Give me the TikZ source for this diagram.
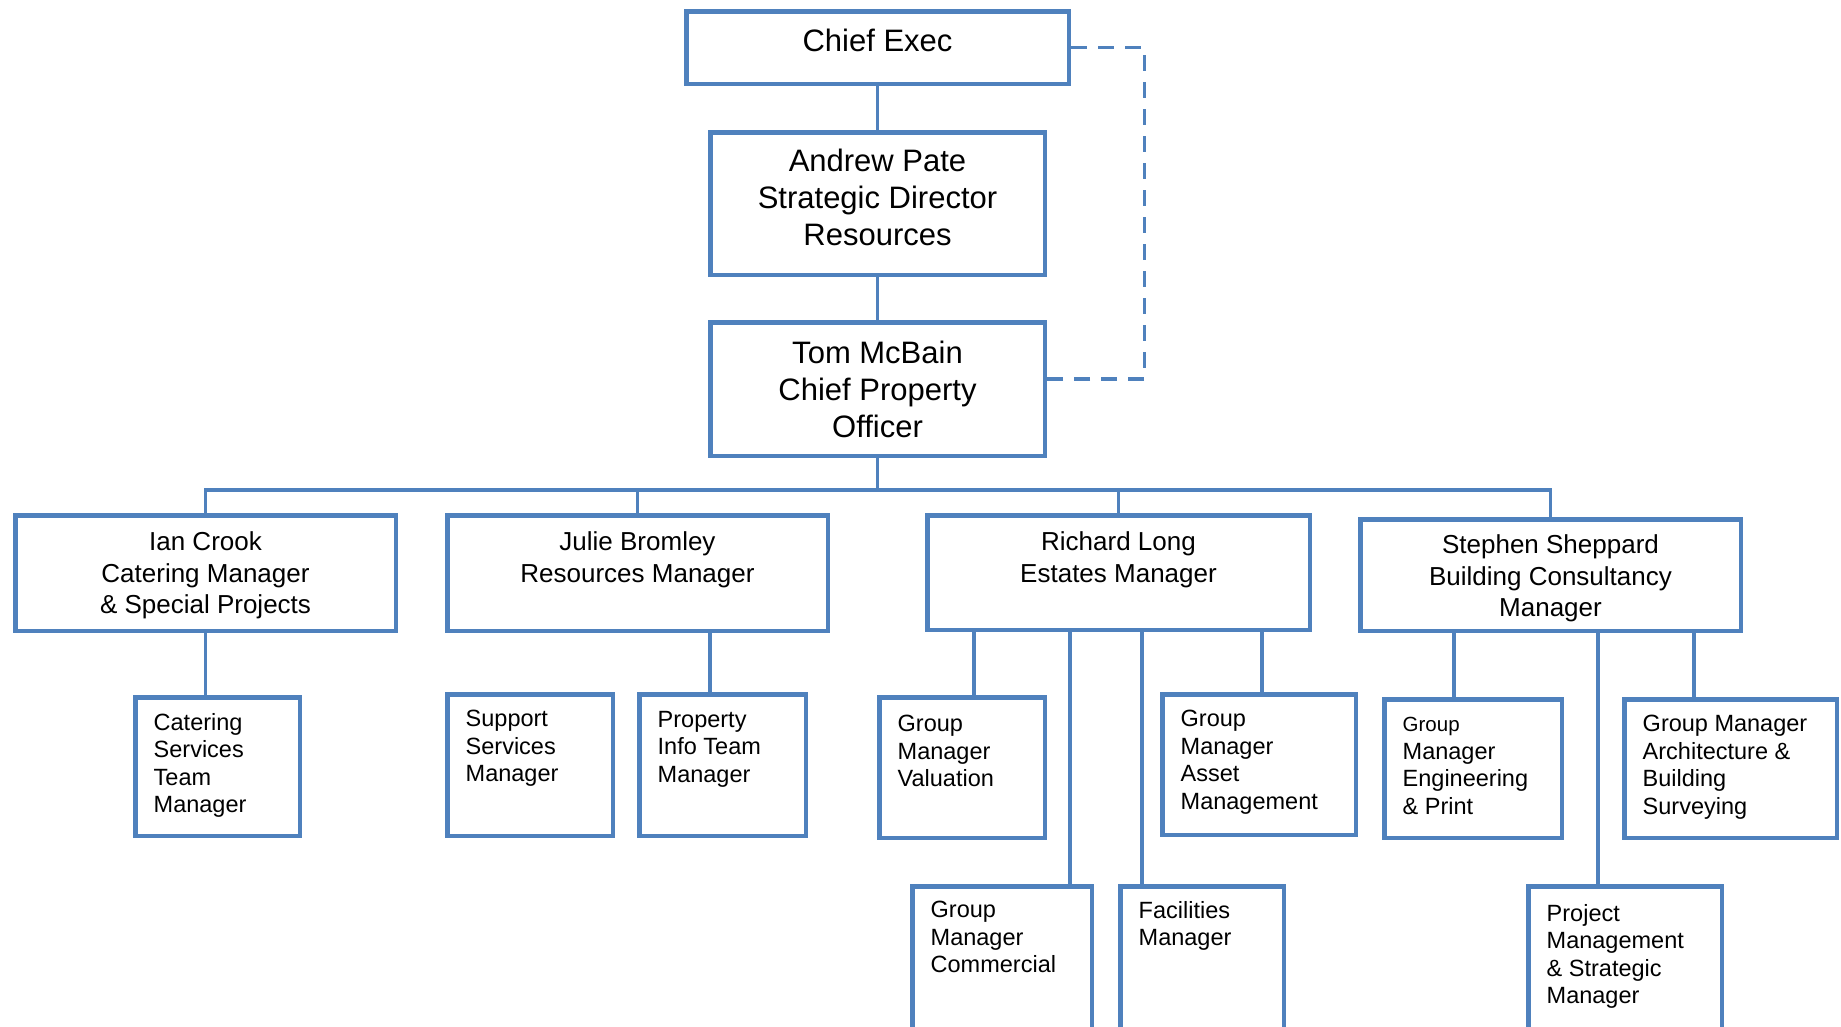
\documentclass[tikz,border=0pt]{standalone}
\usepackage{fontspec}
\setmainfont{Liberation Sans}
\definecolor{orgblue}{HTML}{4F81BD}
\begin{document}
\begin{tikzpicture}[x=1pt,y=-1pt,
  box/.style={draw=orgblue, line width=4.5pt, fill=white, inner sep=0pt, rectangle},
  conn/.style={draw=orgblue, line width=3.5pt},
  dashline/.style={draw=orgblue, line width=3.5pt, dash pattern=on 16pt off 11pt},
  tbig/.style={font=\fontsize{31}{37}\selectfont, align=center, inner sep=0pt, anchor=north},
  tmid/.style={font=\fontsize{26}{31.5}\selectfont, align=center, inner sep=0pt, anchor=north},
  tsmall/.style={font=\fontsize{23.5}{27.5}\selectfont, align=left, inner sep=0pt, anchor=north west},
]
\useasboundingbox (0,0) rectangle (1841,1026);
\clip (0,0) rectangle (1841,1026);
\fill[white] (0,0) rectangle (1841,1026);

% boxes
\node[box, minimum width=382.5pt, minimum height=72.5pt]  (ce) at (877.5,47.5) {};
\node[box, minimum width=334.5pt, minimum height=142.5pt] (ap) at (877.5,203.5) {};
\node[box, minimum width=334.5pt, minimum height=133.5pt] (tm) at (877.5,389) {};
\node[box, minimum width=380.5pt, minimum height=115.5pt] (ic) at (205.5,573) {};
\node[box, minimum width=380.5pt, minimum height=115.5pt] (jb) at (637.5,573) {};
\node[box, minimum width=382.5pt, minimum height=114.5pt] (rl) at (1118.5,572.5) {};
\node[box, minimum width=380.5pt, minimum height=111.5pt] (ss) at (1550.5,575) {};
\node[box, minimum width=164.5pt, minimum height=138.5pt] (cs) at (217.5,766.5) {};
\node[box, minimum width=165.5pt, minimum height=141.5pt] (su) at (530,765) {};
\node[box, minimum width=166.5pt, minimum height=141.5pt] (pi) at (722.5,765) {};
\node[box, minimum width=165.5pt, minimum height=140.5pt] (gv) at (962,767.5) {};
\node[box, minimum width=193.5pt, minimum height=140.5pt] (ga) at (1259,764.5) {};
\node[box, minimum width=179.5pt, minimum height=181.5pt] (gc) at (1002,977) {};
\node[box, minimum width=163.5pt, minimum height=181.5pt] (fm) at (1202,977) {};
\node[box, minimum width=177.5pt, minimum height=138.5pt] (ge) at (1473,768.5) {};
\node[box, minimum width=212.5pt, minimum height=138.5pt] (ar) at (1730.5,768.5) {};
\node[box, minimum width=193.5pt, minimum height=181.5pt] (pm) at (1625,977) {};

% connectors
\draw[conn] (ce.south) -- (ap.north);
\draw[conn] (ap.south) -- (tm.north);
\coordinate (bus) at (877.5,490);
\draw[conn] (tm.south) -- (bus);
\draw[conn] (ic.north) |- (bus);
\draw[conn] (ss.north) |- (bus);
\draw[conn] (jb.north) -- (jb.north |- bus);
\draw[conn] (rl.north) -- (rl.north |- bus);

\draw[conn] (ic.south) -- (ic.south |- cs.north);
\coordinate (jbp) at ([xshift=72.5pt]jb.south);
\draw[conn] (jbp) -- (jbp |- pi.north);

\coordinate (rlv) at ([xshift=-144.5pt]rl.south);
\coordinate (rlc) at ([xshift=-48.5pt]rl.south);
\coordinate (rlf) at ([xshift=23.5pt]rl.south);
\coordinate (rla) at ([xshift=143.5pt]rl.south);
\draw[conn] (rlv) -- (rlv |- gv.north);
\draw[conn] (rlc) -- (rlc |- gc.north);
\draw[conn] (rlf) -- (rlf |- fm.north);
\draw[conn] (rla) -- (rla |- ga.north);

\coordinate (sse) at ([xshift=-96.5pt]ss.south);
\coordinate (ssp) at ([xshift=47.5pt]ss.south);
\coordinate (ssa) at ([xshift=143.5pt]ss.south);
\draw[conn] (sse) -- (sse |- ge.north);
\draw[conn] (ssp) -- (ssp |- pm.north);
\draw[conn] (ssa) -- (ssa |- ar.north);

\coordinate (dc) at ([xshift=73.25pt]ce.east);
\draw[dashline] (ce.east) -- (dc) |- ([yshift=10pt]tm.east);

% texts
\node[tbig] (ce-t) at ([yshift=-19.5pt]ce.north) {Chief Exec};
\node[tbig] (ap-t) at ([yshift=-18.5pt]ap.north) {Andrew Pate\\Strategic Director\\Resources};
\node[tbig] (tm-t) at ([yshift=-20.5pt]tm.north) {Tom McBain\\Chief Property\\Officer};

\node[tmid] (ic-t) at ([yshift=-18.5pt]ic.north) {Ian Crook\\Catering Manager\\\& Special Projects};
\node[tmid] (jb-t) at ([yshift=-18.5pt]jb.north) {Julie Bromley\\Resources Manager};
\node[tmid] (rl-t) at ([yshift=-18.5pt]rl.north) {Richard Long\\Estates Manager};
\node[tmid] (ss-t) at ([yshift=-17.5pt]ss.north) {Stephen Sheppard\\Building Consultancy\\Manager};

\node[tsmall] (cs-t) at ([xshift=20.5pt,yshift=-18pt]cs.north west) {Catering\\Services\\Team\\Manager};
\node[tsmall] (su-t) at ([xshift=20.5pt,yshift=-18pt]su.north west) {Support\\Services\\Manager};
\node[tsmall] (pi-t) at ([xshift=20.5pt,yshift=-19pt]pi.north west) {Property\\Info Team\\Manager};
\node[tsmall] (gv-t) at ([xshift=20.5pt,yshift=-20pt]gv.north west) {Group\\Manager\\Valuation};
\node[tsmall] (ga-t) at ([xshift=20.5pt,yshift=-18pt]ga.north west) {Group\\Manager\\Asset\\Management};
\node[tsmall] (gc-t) at ([xshift=20.5pt,yshift=-17pt]gc.north west) {Group\\Manager\\Commercial};
\node[tsmall] (fm-t) at ([xshift=20.5pt,yshift=-17pt]fm.north west) {Facilities\\Manager};
\node[tsmall] (ge-t) at ([xshift=20.5pt,yshift=-20pt]ge.north west) {{\fontsize{20.5}{27.5}\selectfont Group}\\Manager\\Engineering\\\& Print};
\node[tsmall] (ar-t) at ([xshift=20.5pt,yshift=-18pt]ar.north west) {Group Manager\\Architecture \&\\Building\\Surveying};
\node[tsmall] (pm-t) at ([xshift=20.5pt,yshift=-20pt]pm.north west) {Project\\Management\\\& Strategic\\Manager};
\end{tikzpicture}
\end{document}
